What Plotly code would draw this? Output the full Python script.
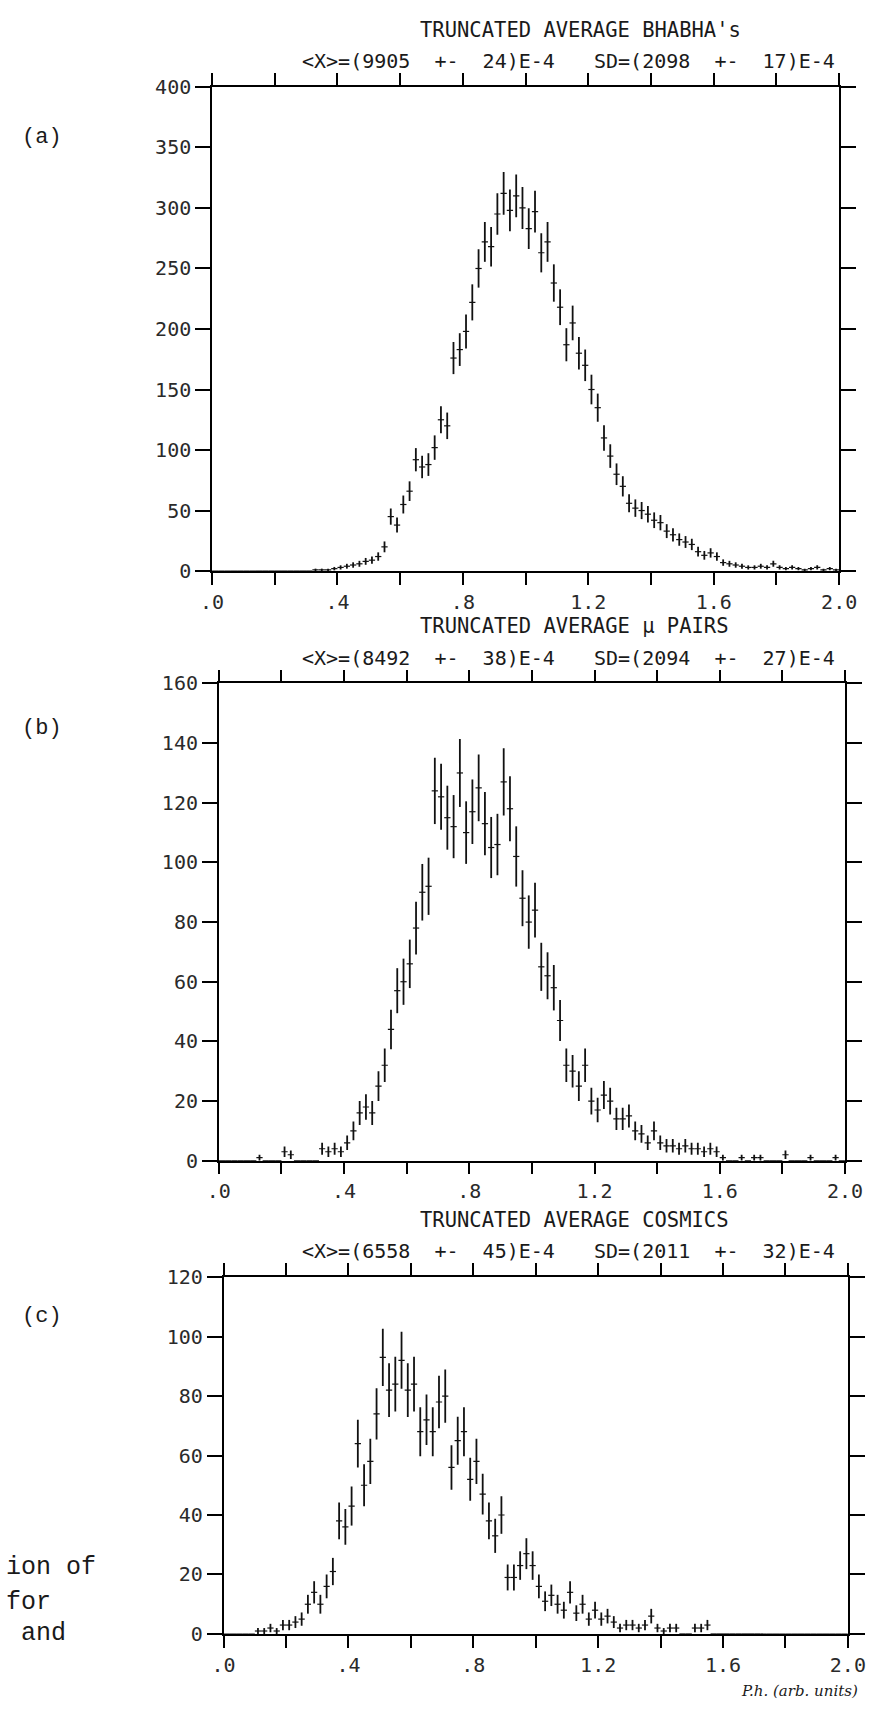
import numpy as np
import plotly.graph_objects as go
from plotly.subplots import make_subplots

# Histogram binning (arb. units): 100 bins of 0.02 from 0 to 2.0
BIN_WIDTH = 0.02
N_BINS = 100

# Counts per bin
bhabha_counts = [
    0, 0, 0, 0, 0, 0, 0, 0, 0, 0,
    0, 0, 0, 0, 0, 0, 1, 1, 1, 2,
    3, 4, 5, 6, 8, 9, 12, 20, 45, 38,
    55, 66, 92, 86, 88, 102, 125, 120, 176, 183,
    198, 222, 250, 272, 268, 295, 312, 298, 310, 300,
    283, 297, 263, 272, 238, 218, 187, 205, 180, 170,
    150, 135, 110, 95, 80, 70, 56, 52, 50, 47,
    42, 40, 33, 30, 26, 24, 22, 16, 13, 15,
    12, 7, 6, 5, 4, 3, 3, 4, 3, 6,
    3, 2, 3, 2, 1, 2, 3, 1, 2, 1,
]
mupair_counts = [
    0, 0, 0, 0, 0, 0, 1, 0, 0, 0,
    3, 2, 0, 0, 0, 0, 4, 3, 4, 3,
    6, 10, 16, 18, 16, 25, 32, 44, 57, 60,
    66, 78, 90, 92, 124, 122, 115, 112, 130, 110,
    117, 125, 113, 105, 106, 127, 118, 102, 88, 80,
    84, 65, 62, 58, 47, 32, 30, 25, 32, 20,
    17, 22, 20, 14, 14, 15, 10, 9, 6, 10,
    6, 5, 5, 4, 5, 4, 4, 3, 4, 3,
    1, 0, 0, 1, 0, 1, 1, 0, 0, 0,
    2, 0, 0, 0, 1, 0, 0, 0, 1, 0,
]
cosmic_counts = [
    0, 0, 0, 0, 0, 1, 1, 2, 1, 3,
    3, 4, 5, 10, 14, 10, 16, 21, 38, 36,
    43, 64, 50, 58, 74, 93, 82, 84, 92, 82,
    84, 68, 72, 68, 78, 80, 56, 65, 68, 52,
    58, 47, 38, 33, 40, 19, 19, 23, 27, 23,
    16, 11, 13, 10, 8, 14, 7, 10, 5, 8,
    5, 6, 4, 2, 3, 3, 2, 3, 6, 2,
    1, 2, 2, 0, 0, 2, 2, 3, 0, 0,
    0, 0, 0, 0, 0, 0, 0, 0, 0, 0,
    0, 0, 0, 0, 0, 0, 0, 0, 0, 0,
]

panel_titles = ["TRUNCATED AVERAGE BHABHA's",
                "TRUNCATED AVERAGE \u03bc PAIRS",
                "TRUNCATED AVERAGE COSMICS"]
mean_texts = ["&lt;X&gt;=(9905\u00a0\u00a0+-\u00a0\u00a024)E-4",
              "&lt;X&gt;=(8492\u00a0\u00a0+-\u00a0\u00a038)E-4",
              "&lt;X&gt;=(6558\u00a0\u00a0+-\u00a0\u00a045)E-4"]
sd_texts = ["SD=(2098\u00a0\u00a0+-\u00a0\u00a017)E-4",
            "SD=(2094\u00a0\u00a0+-\u00a0\u00a027)E-4",
            "SD=(2011\u00a0\u00a0+-\u00a0\u00a032)E-4"]
panel_labels = ["(a)", "(b)", "(c)"]
y_max = [400, 160, 120]
y_step = [50, 20, 20]
x_tick_vals = [0.0, 0.2, 0.4, 0.6, 0.8, 1.0, 1.2, 1.4, 1.6, 1.8, 2.0]
x_tick_text = [".0", "", ".4", "", ".8", "", "1.2", "", "1.6", "", "2.0"]

W, H = 891, 1715

# Pixel boxes of the three frames: left, right, top, bottom
frames = [(207, 856, 76, 567), (214, 862, 681, 1165), (219, 865, 1283, 1645)]
title_y = [18, 623, 1225]
stat_y = [50, 655, 1257]
label_y = [127, 727, 1323]


def px(x):
    return x / W


def py(y):
    return 1 - y / H


centers = np.arange(N_BINS) * BIN_WIDTH + BIN_WIDTH / 2
all_counts = [bhabha_counts, mupair_counts, cosmic_counts]

fig = make_subplots(rows=3, cols=1)

for i, counts in enumerate(all_counts):
    counts = np.array(counts, dtype=float)
    fig.add_trace(go.Scatter(
        x=centers, y=counts, mode='markers',
        marker=dict(size=1, color='rgba(0,0,0,0)'),
        error_y=dict(type='data', array=np.sqrt(counts), width=0,
                     thickness=1.8, color='#111'),
        error_x=dict(type='constant', value=BIN_WIDTH / 2, width=0,
                     thickness=1.2, color='#111'),
        showlegend=False, hoverinfo='skip'), row=i + 1, col=1)

tick_font = dict(family='DejaVu Sans Mono', size=20, color='#2a2a2a')
axis_common = dict(showline=True, linecolor='black', linewidth=1.6,
                   mirror='ticks', ticks='outside', tickwidth=1.5,
                   tickcolor='black', showgrid=False, zeroline=False,
                   tickfont=tick_font)

layout_axes = {}
for i, (l, r, t, b) in enumerate(frames):
    sfx = '' if i == 0 else str(i + 1)
    layout_axes['xaxis' + sfx] = dict(
        axis_common, domain=[px(l), px(r)], range=[0, 2.0],
        tickmode='array', tickvals=x_tick_vals, ticktext=x_tick_text,
        ticklen=12)
    layout_axes['yaxis' + sfx] = dict(
        axis_common, domain=[py(b), py(t)], range=[0, y_max[i]],
        tickmode='array', tickvals=list(range(0, y_max[i] + 1, y_step[i])),
        ticklen=15)
fig.update_layout(**layout_axes)

annotations = []
title_font = dict(family='DejaVu Sans Mono', size=20.5, color='#1a1a1a')
stat_font = dict(family='DejaVu Sans Mono', size=20, color='#1a1a1a')
for i in range(3):
    annotations.append(dict(text=panel_titles[i], x=px(420), y=py(title_y[i]),
                            xanchor='left', yanchor='middle', font=title_font))
    annotations.append(dict(text=mean_texts[i], x=px(298), y=py(stat_y[i]),
                            xanchor='left', yanchor='middle', font=stat_font))
    annotations.append(dict(text=sd_texts[i], x=px(600), y=py(stat_y[i]),
                            xanchor='left', yanchor='middle', font=stat_font))
    annotations.append(dict(text=panel_labels[i], x=px(8), y=py(label_y[i]),
                            xanchor='left', yanchor='middle',
                            font=dict(family='Liberation Mono', size=22,
                                      color='#1a1a1a')))

# Fragments of the cropped figure caption on the left
caption_font = dict(family='Liberation Mono', size=25, color='#1a1a1a')
annotations.append(dict(text='ion of', x=px(-8), y=py(1578), xanchor='left',
                        yanchor='middle', font=caption_font))
annotations.append(dict(text='for', x=px(-8), y=py(1613), xanchor='left',
                        yanchor='middle', font=caption_font))
annotations.append(dict(text='\u00a0and', x=px(-8), y=py(1645), xanchor='left',
                        yanchor='middle', font=caption_font))

# Handwritten axis label
annotations.append(dict(text='P.h. (arb. units)', x=px(752), y=py(1703),
                        xanchor='left', yanchor='middle',
                        font=dict(family='DejaVu Serif', size=15,
                                  color='#1a1a1a', style='italic')))

for a in annotations:
    a.update(xref='paper', yref='paper', showarrow=False)

fig.update_layout(width=W, height=H, margin=dict(l=0, r=0, t=0, b=0),
                  paper_bgcolor='white', plot_bgcolor='white',
                  annotations=annotations)

# drop the default page margin so the figure sits at the window origin
fig.write_html("out.html", config={'displayModeBar': False},
               post_script="document.body.style.margin = '0';")
